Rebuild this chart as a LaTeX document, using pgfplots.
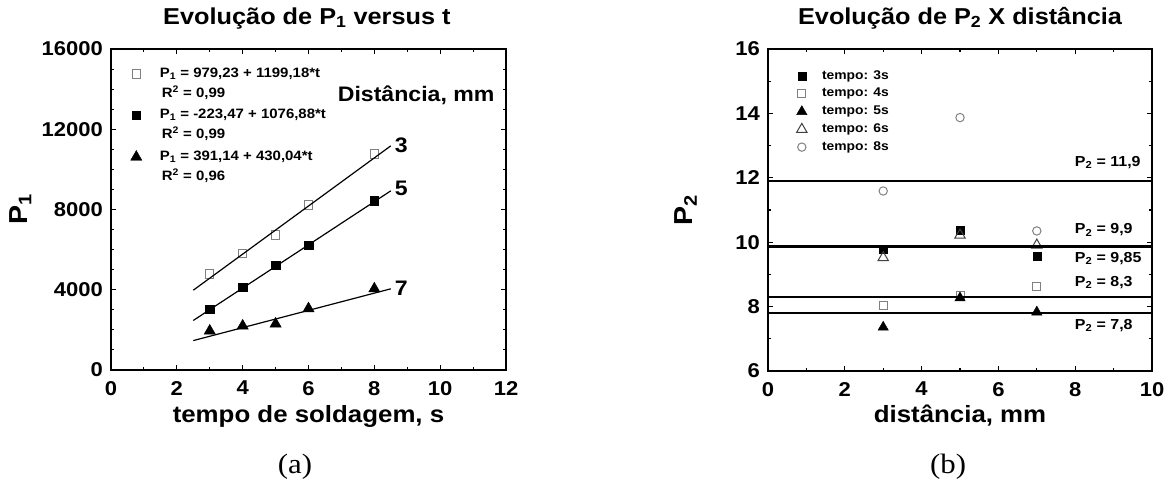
\documentclass[border=0pt]{standalone}
\usepackage{pgfplots}
\pgfplotsset{compat=1.18}
\usepackage{fontspec}
\setmainfont{Liberation Sans}[FakeStretch=1.1]
\newfontfamily\seriffont{Liberation Serif}[FakeStretch=1.1]
\newcommand\fs[1]{\fontsize{#1bp}{#1bp}\selectfont}

\begin{document}
\begin{tikzpicture}
\path[use as bounding box] (0,0) rectangle (1166bp,481bp);
\pgfplotsset{
  every axis/.append style={
    scale only axis,
    clip mode=individual,
    axis line style={line width=1.6bp},
    tick style={line width=1.1bp, black},
    major tick length=5bp, minor tick length=3bp,
    tick align=inside,
    /pgf/number format/assume math mode=true,
    /pgf/number format/1000 sep={},
    ticklabel style={font=\bfseries\fs{20}},
    xticklabel style={inner sep=0pt, anchor=north, yshift=-11bp},
    yticklabel style={inner sep=0pt, anchor=east, xshift=-8bp},
    title style={font=\bfseries\fs{23}, anchor=base},
    xlabel style={font=\bfseries\fs{23.5}, anchor=base},
    ylabel style={font=\bfseries\fs{26}, anchor=center},
    legend cell align=left,
  }
}
% ---------------- (a) ----------------
\begin{axis}[
  at={(111bp,111bp)}, anchor=south west, width=395bp, height=321bp,
  xmin=0, xmax=12, ymin=0, ymax=16000,
  xtick={0,2,...,12}, ytick={0,4000,...,16000},
  minor x tick num=1, minor y tick num=3,
  scaled y ticks=false,
  title={Evolução de P\textsubscript{1} versus t},
  title style={at={(axis description cs:0.496,1.059)}},
  xlabel={tempo de soldagem, s},
  xlabel style={at={(axis description cs:0.5,-0.165)}},
  ylabel={P\textsubscript{1}},
  ylabel style={at={(axis description cs:-0.229,0.5)}},
  legend style={at={(axis description cs:0.042,0.941)}, anchor=north west,
    draw=none, fill=none, inner sep=0pt, row sep=8.6bp, column sep=18bp,
    font=\bfseries\fs{13.6},
    nodes={inner sep=0pt, text height=9bp, text depth=3bp}},
]
\addplot[only marks, mark=square, mark size=4.2bp, mark options={draw=gray, fill=white, line width=1bp}]
  coordinates {(3,4785) (4,5816) (5,6729) (6,8224) (8,10766)};
\addlegendentry{P\textsubscript{1} = 979,23 + 1199,18*t}
\addlegendimage{empty legend}
\addlegendentry{\hspace{2bp}R\textsuperscript{2} = 0,99}
\addplot[only marks, mark=square*, mark size=4.2bp, mark options={draw=black, fill=black}]
  coordinates {(3,3025) (4,4122) (5,5234) (6,6231) (8,8439)};
\addlegendentry{P\textsubscript{1} = -223,47 + 1076,88*t}
\addlegendimage{empty legend}
\addlegendentry{\hspace{2bp}R\textsuperscript{2} = 0,99}
\addplot[only marks, mark=triangle*, mark size=6.5bp, mark options={draw=black, fill=black}]
  coordinates {(3,1950) (4,2200) (5,2300) (6,3060) (8,4050)};
\addlegendentry{P\textsubscript{1} = 391,14 + 430,04*t}
\addlegendimage{empty legend}
\addlegendentry{\hspace{2bp}R\textsuperscript{2} = 0,96}
\addplot[black, line width=1.2bp, forget plot] coordinates {(2.5,3977.2) (8.5,11172.3)};
\addplot[black, line width=1.2bp, forget plot] coordinates {(2.5,2468.7) (8.5,8930.0)};
\addplot[black, line width=1.2bp, forget plot] coordinates {(2.5,1466.2) (8.5,4046.5)};
\node[font=\bfseries\fs{21}] at (axis cs:9.27,13679) {Distância, mm};
\node[font=\bfseries\fs{21}] at (axis cs:8.82,11192) {3};
\node[font=\bfseries\fs{21}] at (axis cs:8.82,9036) {5};
\node[font=\bfseries\fs{21}] at (axis cs:8.82,4062) {7};
\node[font=\seriffont\fs{28}, anchor=base] at (axis description cs:0.466,-0.321) {(a)};
\end{axis}
% ---------------- (b) ----------------
\begin{axis}[
  at={(768bp,110bp)}, anchor=south west, width=384bp, height=322bp,
  xmin=0, xmax=10, ymin=6, ymax=16,
  xtick={0,2,...,10}, ytick={6,8,...,16},
  minor x tick num=1, minor y tick num=1,
  title={Evolução de P\textsubscript{2} X distância},
  title style={at={(axis description cs:0.5,1.059)}},
  xlabel={distância, mm},
  xlabel style={at={(axis description cs:0.5,-0.161)}},
  ylabel={P\textsubscript{2}},
  ylabel style={at={(axis description cs:-0.214,0.5)}},
  legend style={at={(axis description cs:0.074,0.935)}, anchor=north west,
    draw=none, fill=none, inner sep=0pt, row sep=5.75bp, column sep=15bp,
    font=\bfseries\fs{12.6},
    nodes={inner sep=0pt, text height=9bp, text depth=3bp}},
]
\addplot[only marks, mark=square*, mark size=4bp, mark options={draw=black, fill=black}]
  coordinates {(3,9.78) (5,10.38) (7,9.57)};
\addlegendentry{tempo: 3s}
\addplot[only marks, mark=square, mark size=4bp, mark options={draw=gray, fill=white, line width=1bp}]
  coordinates {(3,8.02) (5,8.36) (7,8.62)};
\addlegendentry{tempo: 4s}
\addplot[only marks, mark=triangle*, mark size=6bp, mark options={draw=black, fill=black}]
  coordinates {(3,7.36) (5,8.27) (7,7.83)};
\addlegendentry{tempo: 5s}
\addplot[only marks, mark=triangle, mark size=6bp, mark options={draw=black!75, fill=white, line width=1bp}]
  coordinates {(3,9.52) (5,10.22) (7,9.91)};
\addlegendentry{tempo: 6s}
\addplot[only marks, mark=o, mark size=4.2bp, mark options={draw=gray, fill=white, line width=1bp}]
  coordinates {(3,11.59) (5,13.87) (7,10.35)};
\addlegendentry{tempo: 8s}
\addplot[black, line width=1.5bp, forget plot] coordinates {(0,11.9) (10,11.9)};
\addplot[black, line width=1.5bp, forget plot] coordinates {(0,9.9) (10,9.9)};
\addplot[black, line width=1.5bp, forget plot] coordinates {(0,9.85) (10,9.85)};
\addplot[black, line width=1.5bp, forget plot] coordinates {(0,8.3) (10,8.3)};
\addplot[black, line width=1.5bp, forget plot] coordinates {(0,7.8) (10,7.8)};
\node[font=\bfseries\fs{14.5}, anchor=west] at (axis cs:7.9,12.47) {P\textsubscript{2} = 11,9};
\node[font=\bfseries\fs{14.5}, anchor=west] at (axis cs:7.9,10.38) {P\textsubscript{2} = 9,9};
\node[font=\bfseries\fs{14.5}, anchor=west] at (axis cs:7.9,9.50) {P\textsubscript{2} = 9,85};
\node[font=\bfseries\fs{14.5}, anchor=west] at (axis cs:7.9,8.74) {P\textsubscript{2} = 8,3};
\node[font=\bfseries\fs{14.5}, anchor=west] at (axis cs:7.9,7.42) {P\textsubscript{2} = 7,8};
\node[font=\seriffont\fs{28}, anchor=base] at (axis description cs:0.469,-0.317) {(b)};
\end{axis}
\end{tikzpicture}
\end{document}
